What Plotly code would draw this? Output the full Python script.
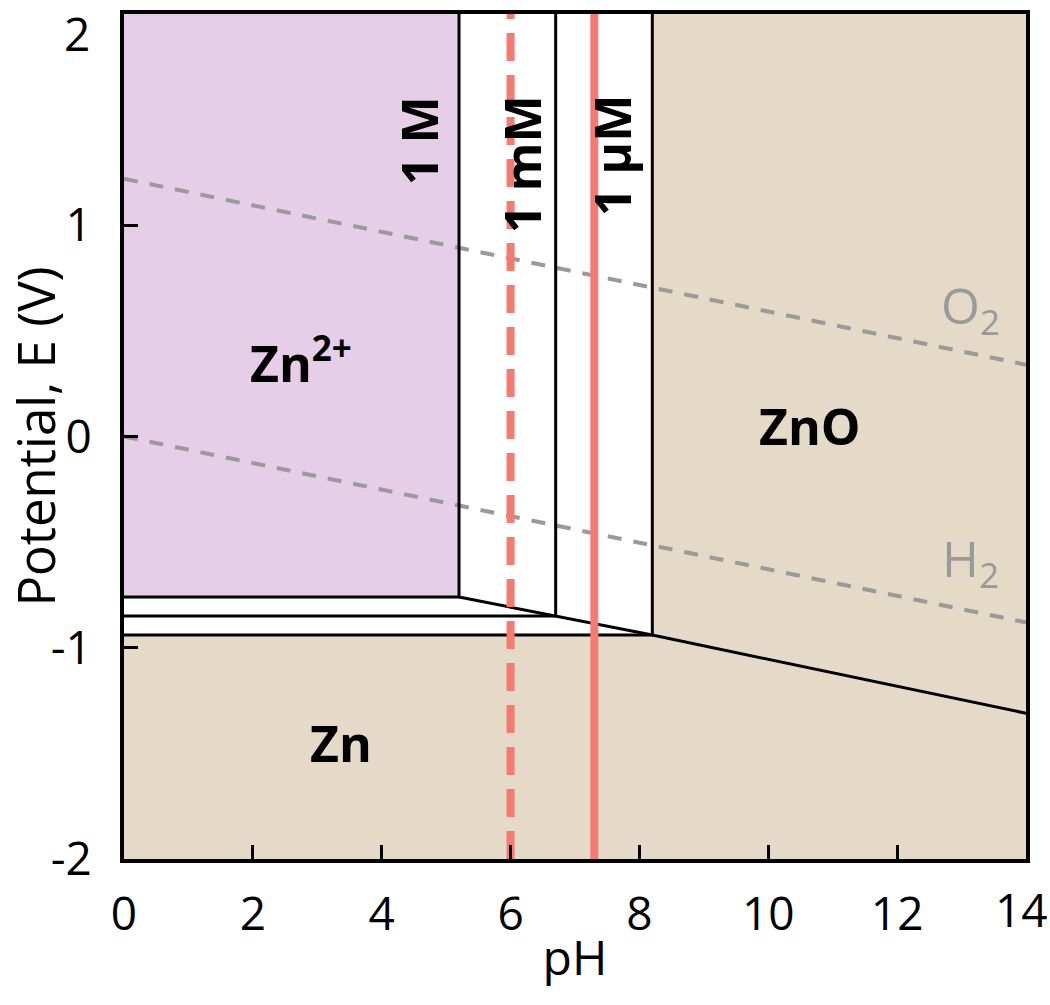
import plotly.graph_objects as go

# ---- data ----
conc_labels = ["1 M", "1 mM", "1 µM"]
E_zn2_zn = [-0.76, -0.85, -0.94]          # Zn2+/Zn boundary potentials (V)
pH_zn2_zno = [5.2, 6.7, 8.2]              # Zn2+/ZnO boundary pH
pH_end = 14.0
E_zno_zn_end = -1.31                      # ZnO/Zn line at pH 14
pH_range = [0, 14]
E_range = [-2, 2]
x_ticks = [0, 2, 4, 6, 8, 10, 12, 14]
x_ticktext = ["0", "2", "4", "6", "8", "10", "12", ""]
y_ticks = [-2, -1, 0, 1, 2]
y_ticktext = ["-2", "-1", "0", "1", ""]
o2_pH = [0, 14]
o2_E = [1.22, 0.34]
h2_pH = [0, 14]
h2_E = [0.0, -0.88]
pH_dashed = 6.0
pH_solid = 7.3

label_conc_pos = [(4.57, 1.40), (6.18, 1.29), (7.57, 1.33)]

PURPLE = "#E6CDE8"
BEIGE = "#E5D9C8"
RED = "#F47A72"
GRAY = "#9A9A9A"
FONT = "Open Sans"
TICK_SIZE = 46

fig = go.Figure()

# Zn2+ region
fig.add_trace(go.Scatter(
    x=[0, pH_zn2_zno[0], pH_zn2_zno[0], 0],
    y=[E_zn2_zn[0], E_zn2_zn[0], E_range[1], E_range[1]],
    fill="toself", fillcolor=PURPLE, line=dict(width=0), mode="lines",
    hoverinfo="skip", showlegend=False))
# Zn region
fig.add_trace(go.Scatter(
    x=[0, pH_end, pH_end, pH_zn2_zno[2], 0],
    y=[E_range[0], E_range[0], E_zno_zn_end, E_zn2_zn[2], E_zn2_zn[2]],
    fill="toself", fillcolor=BEIGE, line=dict(width=0), mode="lines",
    hoverinfo="skip", showlegend=False))
# ZnO region
fig.add_trace(go.Scatter(
    x=[pH_zn2_zno[2], pH_end, pH_end, pH_zn2_zno[2]],
    y=[E_range[1], E_range[1], E_zno_zn_end, E_zn2_zn[2]],
    fill="toself", fillcolor=BEIGE, line=dict(width=0), mode="lines",
    hoverinfo="skip", showlegend=False))

# water lines
for px, py in [(o2_pH, o2_E), (h2_pH, h2_E)]:
    fig.add_trace(go.Scatter(x=px, y=py, mode="lines",
                             line=dict(color=GRAY, width=4, dash="14px,12px"),
                             hoverinfo="skip", showlegend=False))

# boundaries for each concentration
for E, p in zip(E_zn2_zn, pH_zn2_zno):
    fig.add_trace(go.Scatter(x=[0, p, p], y=[E, E, E_range[1]], mode="lines",
                             line=dict(color="black", width=3),
                             hoverinfo="skip", showlegend=False))
# sloping ZnO/Zn line
fig.add_trace(go.Scatter(
    x=[pH_zn2_zno[0], pH_zn2_zno[1], pH_zn2_zno[2], pH_end],
    y=[E_zn2_zn[0], E_zn2_zn[1], E_zn2_zn[2], E_zno_zn_end],
    mode="lines", line=dict(color="black", width=3),
    hoverinfo="skip", showlegend=False))

# pH markers
fig.add_trace(go.Scatter(x=[pH_dashed, pH_dashed], y=E_range, mode="lines",
                         line=dict(color=RED, width=8, dash="28px,14px"),
                         hoverinfo="skip", showlegend=False))
fig.add_trace(go.Scatter(x=[pH_solid, pH_solid], y=E_range, mode="lines",
                         line=dict(color=RED, width=8),
                         hoverinfo="skip", showlegend=False))

# labels
def ann(x, y, text, size=50, color="black", angle=0, bold=True):
    fig.add_annotation(x=x, y=y, xref="x", yref="y", text=(f"<b>{text}</b>" if bold else text),
                       showarrow=False, textangle=angle,
                       font=dict(family=FONT, size=size, color=color))

ann(2.74, 0.36, "Zn<sup>2+</sup>")
ann(10.65, 0.05, "ZnO")
ann(3.37, -1.45, "Zn")
ann(13.14, 0.61, "O<sub>2</sub>", color=GRAY, bold=False)
ann(13.14, -0.59, "H<sub>2</sub>", color=GRAY, bold=False)
for lab, (x, y) in zip(conc_labels, label_conc_pos):
    ann(x, y, lab, angle=-90)

# end tick labels drawn separately so they stay inside the page
fig.add_annotation(x=0, y=E_range[1], xref="paper", yref="y", text=str(y_ticks[-1]),
                   xanchor="right", yanchor="middle", xshift=-32, yshift=-19,
                   showarrow=False, font=dict(family=FONT, size=TICK_SIZE, color="black"))
fig.add_annotation(x=pH_range[1], y=0, xref="x", yref="paper", text=str(x_ticks[-1]),
                   xanchor="center", yanchor="top", xshift=-5, yshift=-17,
                   showarrow=False, font=dict(family=FONT, size=TICK_SIZE, color="black"))

fig.update_xaxes(range=pH_range, tickvals=x_ticks, ticktext=x_ticktext, automargin=False,
                 showgrid=False, zeroline=False,
                 showline=True, linecolor="black", linewidth=4, mirror=True,
                 ticks="inside", ticklen=14, tickwidth=3, tickcolor="black",
                 ticklabelstandoff=12,
                 tickfont=dict(family=FONT, size=TICK_SIZE, color="black"),
                 title=dict(text="pH", font=dict(family=FONT, size=48, color="black"), standoff=0))
fig.update_yaxes(range=E_range, tickvals=y_ticks, ticktext=y_ticktext, automargin=False,
                 showgrid=False, zeroline=False,
                 showline=True, linecolor="black", linewidth=4, mirror=True,
                 ticks="inside", ticklen=14, tickwidth=3, tickcolor="black",
                 ticklabelstandoff=19,
                 tickfont=dict(family=FONT, size=TICK_SIZE, color="black"),
                 title=dict(text="Potential, E (V)", font=dict(family=FONT, size=51, color="black"), standoff=0))

fig.update_layout(width=1050, height=1005, plot_bgcolor="white", paper_bgcolor="white",
                  margin=dict(l=124, r=24, t=14, b=146), showlegend=False)

fig.write_html("out.html", config={"displayModeBar": False},
               post_script="document.body.style.margin='0';")
